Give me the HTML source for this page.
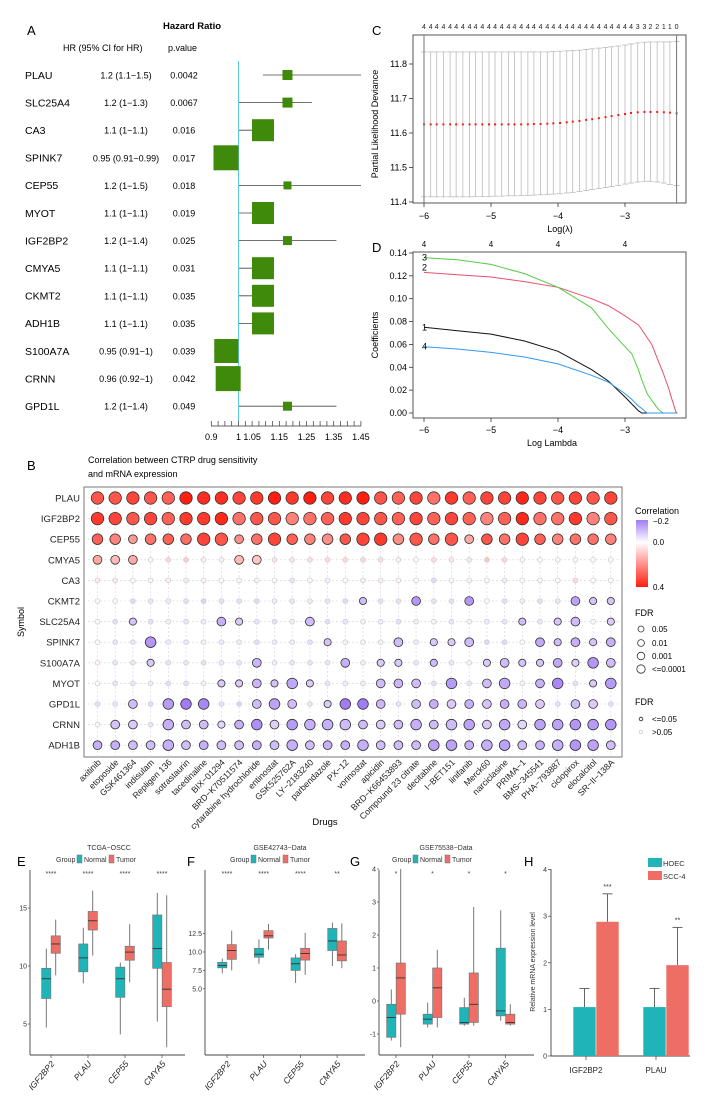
<!DOCTYPE html>
<html><head><meta charset="utf-8">
<style>
html,body{margin:0;padding:0;background:#fff;}
svg{display:block;font-family:"Liberation Sans",Arial,sans-serif;}
</style></head>
<body>
<svg id="fig" width="708" height="1113" viewBox="0 0 708 1113" xmlns="http://www.w3.org/2000/svg">
<rect x="0" y="0" width="708" height="1113" fill="#fff"/>
<text x="27" y="35" font-size="13">A</text>
<text x="27" y="470" font-size="13">B</text>
<text x="372" y="35" font-size="13">C</text>
<text x="372" y="252" font-size="13">D</text>
<text x="17" y="866" font-size="13">E</text>
<text x="187" y="866" font-size="13">F</text>
<text x="350" y="866" font-size="13">G</text>
<text x="524" y="866" font-size="13">H</text>
<text x="192" y="29" font-size="9.5" font-weight="bold" text-anchor="middle">Hazard Ratio</text>
<text x="63" y="51" font-size="9">HR (95% CI for HR)</text>
<text x="168" y="51" font-size="9">p.value</text>
<text x="88" y="463" font-size="9">Correlation between CTRP drug sensitivity</text>
<text x="88" y="477" font-size="9">and mRNA expression</text>
<text transform="translate(24,622) rotate(-90)" font-size="9" text-anchor="middle">Symbol</text>
<text x="325" y="825" font-size="9.5" text-anchor="middle">Drugs</text>
<text x="635" y="514" font-size="9">Correlation</text>
<defs><linearGradient id="cg" x1="0" y1="0" x2="0" y2="1">
<stop offset="0" stop-color="#a07cf5"/><stop offset="0.333" stop-color="#ffffff"/><stop offset="1" stop-color="#ff1e10"/></linearGradient></defs>
<rect x="636" y="520" width="12" height="67" fill="url(#cg)"/>
<text x="653" y="524" font-size="8">−0.2</text>
<text x="653" y="545" font-size="8">0.0</text>
<text x="653" y="590" font-size="8">0.4</text>
<text x="635" y="616" font-size="9">FDR</text>
<circle cx="641" cy="629" r="3" fill="none" stroke="#333" stroke-width="0.8"/>
<circle cx="641" cy="643" r="3.4" fill="none" stroke="#333" stroke-width="0.8"/>
<circle cx="641" cy="656" r="3.8" fill="none" stroke="#333" stroke-width="0.8"/>
<circle cx="641" cy="669" r="4.2" fill="none" stroke="#333" stroke-width="0.8"/>
<text x="652" y="632" font-size="8">0.05</text>
<text x="652" y="646" font-size="8">0.01</text>
<text x="652" y="659" font-size="8">0.001</text>
<text x="652" y="672" font-size="8">&lt;=0.0001</text>
<text x="635" y="705" font-size="9">FDR</text>
<circle cx="641" cy="719" r="1.8" fill="none" stroke="#222" stroke-width="0.8"/>
<circle cx="641" cy="732" r="1.8" fill="none" stroke="#ccc" stroke-width="0.8"/>
<text x="652" y="722" font-size="8">&lt;=0.05</text>
<text x="652" y="735" font-size="8">&gt;0.05</text>
<text transform="translate(378,124) rotate(-90)" font-size="9" text-anchor="middle">Partial Likelihood Deviance</text>
<text x="560" y="232" font-size="9" text-anchor="middle">Log(λ)</text>
<text transform="translate(378,335) rotate(-90)" font-size="9" text-anchor="middle">Coefficients</text>
<text x="552" y="446" font-size="9" text-anchor="middle">Log Lambda</text>
<text x="109" y="850" font-size="7" text-anchor="middle" fill="#333">TCGA−OSCC</text>
<text x="280" y="850" font-size="7" text-anchor="middle" fill="#333">GSE42743−Data</text>
<text x="446" y="850" font-size="7" text-anchor="middle" fill="#333">GSE75538−Data</text>
<rect x="648" y="858" width="14" height="9" fill="#1fb5b8"/>
<rect x="648" y="871" width="14" height="9" fill="#ee6e66"/>
<text x="663" y="866" font-size="7.5" fill="#333">HOEC</text>
<text x="663" y="879" font-size="7.5" fill="#333">SCC-4</text>
<text transform="translate(535,962) rotate(-90)" font-size="7" text-anchor="middle" fill="#333">Relative mRNA expression level</text>
</svg>
<script>
const NS='http://www.w3.org/2000/svg';
const svg=document.getElementById('fig');
function mk(tag,a,p){const e=document.createElementNS(NS,tag);for(const k in a)e.setAttribute(k,a[k]);(p||svg).appendChild(e);return e;}
function tx(s,a){const e=mk('text',a);e.textContent=s;return e;}

/* ===== Panel A ===== */
const fGenes=['PLAU','SLC25A4','CA3','SPINK7','CEP55','MYOT','IGF2BP2','CMYA5','CKMT2','ADH1B','S100A7A','CRNN','GPD1L'];
const fHRtext=['1.2 (1.1−1.5)','1.2 (1−1.3)','1.1 (1−1.1)','0.95 (0.91−0.99)','1.2 (1−1.5)','1.1 (1−1.1)','1.2 (1−1.4)','1.1 (1−1.1)','1.1 (1−1.1)','1.1 (1−1.1)','0.95 (0.91−1)','0.96 (0.92−1)','1.2 (1−1.4)'];
const fP=['0.0042','0.0067','0.016','0.017','0.018','0.019','0.025','0.031','0.035','0.035','0.039','0.042','0.049'];
const fHR=[1.18,1.18,1.09,0.954,1.18,1.09,1.18,1.09,1.09,1.09,0.955,0.962,1.18];
const fLo=[1.09,1.0,1.0,0.91,1.0,1.0,1.0,1.0,1.0,1.0,0.91,0.92,1.0];
const fHi=[1.5,1.27,1.1,0.99,1.5,1.1,1.36,1.1,1.1,1.1,1.0,1.0,1.36];
const fWeight=[10,10,22,25,8,22,9,22,22,22,24,25,9];
const fTicks=[0.9,1,1.05,1.15,1.25,1.35,1.45];
const fTickLabels=['0.9','1','1.05','1.15','1.25','1.35','1.45'];

const fx=v=>238.5+(v-1)*272;
const fy=i=>75+i*27.6;
const clampX=x=>Math.max(211,Math.min(361,x));
fGenes.forEach((g,i)=>{
  const y=fy(i);
  const t1=tx(g,{x:25,y:y+3.8,'font-size':10.5});
  
  
  const t2=tx(fHRtext[i],{x:126,y:y+3.5,'font-size':9,'text-anchor':'middle'});
  
  
  const t3=tx(fP[i],{x:184,y:y+3.5,'font-size':9,'text-anchor':'middle'});
  
  
  const ln=mk('line',{x1:clampX(fx(fLo[i])),x2:clampX(fx(fHi[i])),y1:y,y2:y,stroke:'#444','stroke-width':0.8});
  
  
});
const refl=mk('line',{x1:fx(1),x2:fx(1),y1:61,y2:421,stroke:'#5bc8d8','stroke-width':1});


fGenes.forEach((g,i)=>{
  const s=fWeight[i];
  const sq=mk('rect',{x:fx(fHR[i])-s/2,y:fy(i)-s/2,width:s,height:s,fill:'#3f8a0b'});
  
  
});
const fax=mk('line',{x1:211,x2:361,y1:426,y2:426,stroke:'#333','stroke-width':0.8});


for(let k=0;k<=22;k++){
  const v=0.9+k*0.025;
  const tk=mk('line',{x1:fx(v),x2:fx(v),y1:421,y2:426,stroke:'#333','stroke-width':0.7});
  
  
}
fTicks.forEach((v,i)=>{
  const t=tx(fTickLabels[i],{x:fx(v),y:440,'font-size':9,'text-anchor':'middle'});
  
  
});

/* ===== Panel B ===== */
const bGenes=['PLAU','IGF2BP2','CEP55','CMYA5','CA3','CKMT2','SLC25A4','SPINK7','S100A7A','MYOT','GPD1L','CRNN','ADH1B'];
const bDrugs=['axitinib','etoposide','GSK461364','indisulam','Repligen 136','sotrastaurin','tacedinaline','BIX−01294','BRD−K70511574','cytarabine hydrochloride','entinostat','GSK525762A','LY−2183240','parbendazole','PX−12','vorinostat','apicidin','BRD−K66453893','Compound 23 citrate','decitabine','I−BET151','linifanib','Merck60','narciclasine','PRIMA−1','BMS−345541','PHA−793887','ciclopirox','elocalcitol','SR−II−138A'];
const corPLAU=[0.3,0.3,0.33,0.3,0.28,0.4,0.37,0.37,0.33,0.35,0.4,0.35,0.4,0.33,0.37,0.4,0.3,0.28,0.33,0.25,0.35,0.28,0.33,0.33,0.38,0.33,0.3,0.33,0.3,0.33];
const corIGF2BP2=[0.35,0.33,0.3,0.33,0.28,0.35,0.35,0.38,0.25,0.3,0.3,0.22,0.25,0.28,0.35,0.33,0.3,0.28,0.33,0.28,0.33,0.28,0.22,0.28,0.38,0.25,0.25,0.35,0.22,0.3];
const corCEP55=[0.28,0.22,0.18,0.25,0.28,0.26,0.33,0.3,0.2,0.25,0.33,0.28,0.22,0.2,0.3,0.33,0.35,0.2,0.3,0.25,0.3,0.15,0.3,0.25,0.33,0.28,0.22,0.25,0.25,0.22];
const corCMYA5=[0.15,0.12,0.15,0.01,0.07,0.09,0.03,-0.02,0.12,0.1,0.05,0.05,0.06,0.06,0.07,0.07,0.06,0.03,0.01,0.06,0.04,-0.03,0.1,0.07,0.02,0.01,0.01,0.01,0.01,0.01];
const corCA3=[0.03,0.04,0.01,0.02,0.03,-0.03,0.02,0.01,0.02,-0.02,0.01,-0.04,0.01,-0.02,0.01,0.03,0.03,0.02,0.01,-0.06,0.01,-0.02,0.01,-0.03,0.01,0.02,0.01,0.06,0.01,0.01];
const corCKMT2=[-0.01,-0.01,-0.06,-0.04,-0.03,-0.05,-0.07,-0.05,-0.05,-0.06,-0.03,-0.04,-0.03,-0.04,-0.06,-0.1,-0.05,-0.05,-0.16,-0.05,-0.05,-0.16,-0.01,-0.05,-0.03,-0.05,-0.04,-0.14,-0.09,-0.09];
const corSLC25A4=[-0.01,-0.05,-0.09,-0.05,-0.02,-0.04,-0.03,-0.12,-0.08,-0.04,-0.05,-0.03,-0.1,-0.05,-0.04,-0.02,-0.03,-0.05,-0.03,0.02,-0.04,-0.02,-0.03,-0.04,-0.1,-0.04,-0.09,-0.1,-0.01,-0.08];
const corSPINK7=[-0.01,-0.04,-0.04,-0.16,-0.03,-0.04,-0.02,-0.03,-0.03,-0.05,-0.03,-0.03,-0.05,-0.09,-0.02,-0.02,-0.02,-0.1,-0.03,-0.08,-0.08,-0.1,-0.06,-0.06,0.01,-0.13,-0.1,-0.12,-0.09,-0.12];
const corS100A7A=[0.02,-0.04,-0.04,-0.08,-0.04,-0.04,-0.05,-0.03,-0.04,-0.11,-0.03,-0.04,-0.04,-0.04,-0.12,-0.03,-0.08,-0.08,-0.04,-0.1,-0.04,-0.02,-0.08,-0.1,-0.09,-0.09,-0.13,-0.07,-0.16,-0.1];
const corMYOT=[0.01,-0.04,-0.04,-0.03,-0.05,-0.05,-0.02,-0.08,-0.08,-0.11,-0.09,-0.13,-0.08,-0.04,-0.03,-0.03,-0.1,-0.11,-0.1,-0.05,-0.15,-0.04,-0.1,-0.13,-0.02,-0.12,-0.18,-0.05,-0.08,-0.15];
const corGPD1L=[-0.05,-0.04,-0.1,-0.06,-0.15,-0.22,-0.18,-0.05,-0.07,-0.1,-0.14,-0.1,-0.04,-0.08,-0.2,-0.2,-0.11,-0.05,-0.1,-0.12,-0.08,-0.12,-0.09,-0.12,-0.11,-0.08,-0.05,-0.1,-0.08,-0.05];
const corCRNN=[-0.01,-0.09,-0.08,-0.04,-0.12,-0.1,-0.1,-0.06,-0.12,-0.17,-0.07,-0.15,-0.12,-0.12,-0.1,-0.1,-0.08,-0.1,-0.12,-0.1,-0.1,-0.14,-0.08,-0.13,-0.06,-0.14,-0.14,-0.16,-0.15,-0.16];
const corADH1B=[-0.12,-0.12,-0.1,-0.1,-0.12,-0.1,-0.12,-0.1,-0.1,-0.12,-0.1,-0.12,-0.1,-0.12,-0.12,-0.12,-0.1,-0.1,-0.1,-0.14,-0.14,-0.12,-0.12,-0.14,-0.1,-0.12,-0.12,-0.16,-0.14,-0.1];
const fdrPLAU=[4,4,4,4,4,4,4,4,4,4,4,4,4,4,4,4,4,4,4,4,4,4,4,4,4,4,4,4,4,4];
const fdrIGF2BP2=[4,4,4,4,4,4,4,4,4,4,4,4,4,4,4,4,4,4,4,4,4,4,4,4,4,4,4,4,4,4];
const fdrCEP55=[3,3,2,3,3,3,4,4,2,3,4,3,3,3,3,4,4,3,4,3,4,2,3,3,4,3,3,3,3,3];
const fdrCMYA5=[2,2,2,0,0,0,0,0,2,2,0,0,0,0,0,0,0,0,0,0,0,0,0,0,0,0,0,0,0,0];
const fdrCA3=[0,0,0,0,0,0,0,0,0,0,0,0,0,0,0,0,0,0,0,0,0,0,0,0,0,0,0,0,0,0];
const fdrCKMT2=[0,0,0,0,0,0,0,0,0,0,0,0,0,0,0,1,0,0,2,0,0,2,0,0,0,0,0,2,1,1];
const fdrSLC25A4=[0,0,1,0,0,0,0,2,1,0,0,0,2,0,0,0,0,0,0,0,0,0,0,0,1,0,1,2,0,1];
const fdrSPINK7=[0,0,0,3,0,0,0,0,0,0,0,0,0,1,0,0,0,2,0,1,1,2,0,0,0,2,1,2,1,2];
const fdrS100A7A=[0,0,0,1,0,0,0,0,0,2,0,0,0,0,2,0,1,1,0,1,0,0,1,2,1,1,2,1,3,2];
const fdrMYOT=[0,0,0,0,0,0,0,1,1,2,1,3,1,0,0,0,2,2,2,0,3,0,2,3,0,2,3,0,1,3];
const fdrGPD1L=[0,0,2,0,3,3,3,0,0,2,3,2,0,1,3,3,2,0,2,2,2,2,2,2,2,2,0,2,2,0];
const fdrCRNN=[0,2,2,0,3,2,2,1,2,3,2,3,3,3,3,2,2,2,3,2,3,3,2,3,2,3,3,3,3,3];
const fdrADH1B=[2,2,2,2,3,2,2,2,2,2,2,3,2,2,2,3,2,2,2,3,3,2,3,3,2,2,3,3,3,2];
const bCor=[corPLAU,corIGF2BP2,corCEP55,corCMYA5,corCA3,corCKMT2,corSLC25A4,corSPINK7,corS100A7A,corMYOT,corGPD1L,corCRNN,corADH1B];
const bFdr=[fdrPLAU,fdrIGF2BP2,fdrCEP55,fdrCMYA5,fdrCA3,fdrCKMT2,fdrSLC25A4,fdrSPINK7,fdrS100A7A,fdrMYOT,fdrGPD1L,fdrCRNN,fdrADH1B];

const bx=i=>97.5+i*17.7;
const by=j=>498+j*20.6;
const radius=l=>[2.4,3.6,4.4,5.3,6.2][l];
function corColor(c){
  let r,g,b;
  if(c<0){const t=Math.min(1,-c/0.2);r=255+(160-255)*t;g=255+(124-255)*t;b=255+(245-255)*t;}
  else{const t=Math.min(1,c/0.4);r=255;g=255+(30-255)*t;b=255+(16-255)*t;}
  return `rgb(${r|0},${g|0},${b|0})`;
}
const bbox=mk('rect',{x:84,y:487,width:538,height:270,fill:'#fff',stroke:'#777','stroke-width':1});


bDrugs.forEach((d,i)=>{
  const gl=mk('line',{x1:bx(i),x2:bx(i),y1:487,y2:757,stroke:'#d4d4d4','stroke-width':0.6,'stroke-dasharray':'2,2'});
  
  
  const t=tx(d,{x:0,y:0,'font-size':8.7,'text-anchor':'end',fill:'#222',transform:`translate(${bx(i)+4},${763}) rotate(-45)`});
  
  
});
bGenes.forEach((g,j)=>{
  const gl=mk('line',{x1:84,x2:622,y1:by(j),y2:by(j),stroke:'#d4d4d4','stroke-width':0.6,'stroke-dasharray':'2,2'});
  
  
  const t=tx(g,{x:80,y:by(j)+3.5,'font-size':9.5,'text-anchor':'end',fill:'#222'});
  
  
  bCor[j].forEach((c,i)=>{
    const l=bFdr[j][i];
    const dot=mk('circle',{cx:bx(i),cy:by(j),r:radius(l),fill:corColor(c),stroke:l>0?'#333':'#cfcfcf','stroke-width':0.8});
    
    
  });
});

/* ===== Panel C ===== */
const cLogLambda=[-6.00,-5.90,-5.81,-5.71,-5.61,-5.52,-5.42,-5.32,-5.23,-5.13,-5.03,-4.94,-4.84,-4.74,-4.65,-4.55,-4.45,-4.36,-4.26,-4.16,-4.07,-3.97,-3.87,-3.78,-3.68,-3.58,-3.49,-3.39,-3.29,-3.20,-3.10,-3.00,-2.91,-2.81,-2.71,-2.62,-2.52,-2.42,-2.33,-2.23];
const cMean=[11.625,11.625,11.625,11.625,11.625,11.625,11.625,11.625,11.625,11.625,11.625,11.625,11.625,11.625,11.625,11.625,11.625,11.626,11.626,11.627,11.628,11.629,11.631,11.633,11.635,11.638,11.640,11.643,11.646,11.649,11.652,11.655,11.658,11.660,11.661,11.661,11.661,11.660,11.659,11.657];
const cUpper=[11.835,11.835,11.835,11.835,11.835,11.835,11.835,11.835,11.835,11.835,11.835,11.835,11.835,11.835,11.835,11.835,11.835,11.835,11.835,11.835,11.836,11.837,11.838,11.839,11.840,11.842,11.844,11.846,11.848,11.850,11.852,11.855,11.858,11.861,11.863,11.864,11.864,11.864,11.864,11.865];
const cLower=[11.415,11.415,11.415,11.415,11.415,11.415,11.415,11.415,11.416,11.416,11.416,11.417,11.417,11.418,11.418,11.419,11.419,11.420,11.421,11.422,11.423,11.424,11.426,11.428,11.430,11.433,11.436,11.439,11.442,11.445,11.448,11.452,11.455,11.458,11.460,11.460,11.458,11.455,11.451,11.448];
const cTop=['4','4','4','4','4','4','4','4','4','4','4','4','4','4','4','4','4','4','4','4','4','4','4','4','4','4','4','4','4','4','4','4','4','3','3','2','2','1','1','0'];
const cYTicks=[11.4,11.5,11.6,11.7,11.8];
const lamTicks=[-6,-5,-4,-3];
const lx=v=>424+(v+6)*67;
const cy=v=>202-(v-11.4)*345;
const cbox=mk('rect',{x:413,y:35,width:273,height:168,fill:'none',stroke:'#555','stroke-width':1});


cLogLambda.forEach((v,i)=>{
  const x=lx(v);
  const eb=mk('line',{x1:x,x2:x,y1:cy(cUpper[i]),y2:cy(cLower[i]),stroke:'#bbb','stroke-width':0.8});
  
  
  const c1=mk('line',{x1:x-3,x2:x+3,y1:cy(cUpper[i]),y2:cy(cUpper[i]),stroke:'#bbb','stroke-width':0.8});
  
  
  const c2=mk('line',{x1:x-3,x2:x+3,y1:cy(cLower[i]),y2:cy(cLower[i]),stroke:'#bbb','stroke-width':0.8});
  
  
  const p=mk('rect',{x:x-1,y:cy(cMean[i])-1,width:2,height:2,fill:'#ff1a1a'});
  
  
  const t=tx(cTop[i],{x:x,y:29,'font-size':7,'text-anchor':'middle',fill:'#222'});
  
  
});
[cLogLambda[0],cLogLambda[cLogLambda.length-1]].forEach(v=>{
  const vl=mk('line',{x1:lx(v),x2:lx(v),y1:35,y2:203,stroke:'#777','stroke-width':1});
  
  
});
cYTicks.forEach(v=>{
  const tk=mk('line',{x1:409,x2:413,y1:cy(v),y2:cy(v),stroke:'#333','stroke-width':0.8});
  
  
  const t=tx(v.toFixed(1),{x:407,y:cy(v)+3,'font-size':9,'text-anchor':'end'});
  
  
});
lamTicks.forEach(v=>{
  const tk=mk('line',{x1:lx(v),x2:lx(v),y1:203,y2:207,stroke:'#333','stroke-width':0.8});
  
  
  const t=tx('−'+Math.abs(v),{x:lx(v),y:219,'font-size':9,'text-anchor':'middle'});
  
  
});

/* ===== Panel D ===== */
const dLogLambda=[-6,-5.5,-5,-4.5,-4,-3.5,-3.25,-3,-2.9,-2.8,-2.75,-2.67,-2.6,-2.5,-2.43,-2.35,-2.3,-2.24,-2.22];
const dCoef1=[0.075,0.072,0.069,0.063,0.054,0.038,0.028,0.014,0.008,0.002,0,0,0,0,0,0,0,0,0];
const dCoef2=[0.123,0.121,0.119,0.115,0.110,0.100,0.094,0.085,0.081,0.077,0.073,0.066,0.060,0.045,0.035,0.022,0.012,0.001,0];
const dCoef3=[0.136,0.134,0.130,0.122,0.110,0.092,0.074,0.058,0.052,0.038,0.029,0.017,0.011,0.003,0,0,0,0,0];
const dCoef4=[0.058,0.056,0.053,0.049,0.043,0.033,0.027,0.017,0.012,0.006,0.004,0,0,0,0,0,0,0,0];
const dSeries=[dCoef1,dCoef2,dCoef3,dCoef4];
const dColors=['#111111','#e8506e','#55cc44','#3399ee'];
const dYTicks=[0,0.02,0.04,0.06,0.08,0.1,0.12,0.14];
const dy=v=>413-v*1143;
const dbox=mk('rect',{x:413,y:252,width:273,height:166,fill:'none',stroke:'#555','stroke-width':1});


dSeries.forEach((s,k)=>{
  const pts=s.map((v,i)=>lx(dLogLambda[i]).toFixed(1)+','+dy(v).toFixed(1)).join(' ');
  const pl=mk('polyline',{points:pts,fill:'none',stroke:dColors[k],'stroke-width':1});
  
  
  const t=tx(String(k+1),{x:422,y:dy(s[0])+(k==1?-2:3),'font-size':9});
  
  
});
dYTicks.forEach(v=>{
  const tk=mk('line',{x1:409,x2:413,y1:dy(v),y2:dy(v),stroke:'#333','stroke-width':0.8});
  
  
  const t=tx(v.toFixed(2),{x:407,y:dy(v)+3,'font-size':9,'text-anchor':'end'});
  
  
});
lamTicks.forEach(v=>{
  const tk=mk('line',{x1:lx(v),x2:lx(v),y1:418,y2:422,stroke:'#333','stroke-width':0.8});
  
  
  const t=tx('−'+Math.abs(v),{x:lx(v),y:433,'font-size':9,'text-anchor':'middle'});
  
  
  const t2=tx('4',{x:lx(v),y:247,'font-size':8,'text-anchor':'middle'});
  
  
});

/* ===== Panels E, F, G ===== */
const boxGenes=['IGF2BP2','PLAU','CEP55','CMYA5'];
const eNormal=[[4.7,7.2,8.9,9.8,11.5],[8.5,9.5,10.7,11.9,13.3],[4.1,7.3,8.9,9.9,10.3],[5.2,9.8,11.5,14.4,16.3]];
const eTumor=[[9.2,11.1,11.9,12.6,14.0],[10.9,13.1,13.9,14.7,16.5],[8.6,10.5,11.2,11.7,13.6],[3.0,6.5,8.0,10.3,16.1]];
const eStars=['****','****','****','****'];
const fNormal=[[7.1,7.85,8.15,8.6,9.1],[8.4,9.3,9.7,10.5,11.7],[5.8,7.5,8.4,9.2,9.7],[8.1,10.2,11.5,13.2,14.0]];
const fTumor=[[7.5,9.0,10.2,11.0,12.9],[10.3,11.9,12.2,12.9,13.8],[6.9,8.9,9.8,10.5,12.6],[7.8,8.8,9.6,11.5,13.9]];
const fStars=['****','****','****','**'];
const gNormal=[[-1.2,-1.1,-0.5,-0.1,0.35],[-0.8,-0.7,-0.55,-0.4,-0.05],[-0.75,-0.7,-0.65,-0.2,0.1],[-0.6,-0.45,-0.3,1.6,2.75]];
const gTumor=[[-1.4,-0.4,0.7,1.15,4.0],[-0.8,-0.5,0.4,1.0,1.55],[-0.75,-0.65,-0.1,0.85,2.85],[-0.75,-0.7,-0.65,-0.4,-0.1]];
const gStars=['*','*','*','*'];
const eTicks=[5,10,15], fTicks2=[5.0,7.5,10.0,12.5], gTicks=[-1,0,1,2,3,4];

function boxPanel(id,axX,axEnd,g0,gStep,yf,ticks,dec,normal,tumor,stars){
  const ya=mk('line',{x1:axX,x2:axX,y1:870,y2:1055,stroke:'#444','stroke-width':0.9});
  
  
  const xa=mk('line',{x1:axX,x2:axEnd,y1:1055,y2:1055,stroke:'#444','stroke-width':0.9});
  
  
  ticks.forEach(v=>{
    const tk=mk('line',{x1:axX-2,x2:axX,y1:yf(v),y2:yf(v),stroke:'#444','stroke-width':0.7});
    
    
    const t=tx(v.toFixed(dec),{x:axX-3,y:yf(v)+2.5,'font-size':7,'text-anchor':'end',fill:'#333'});
    
    
  });
  boxGenes.forEach((g,i)=>{
    const c=g0+i*gStep;
    [[normal[i],'#1fb5b8',-4.75,'normal'],[tumor[i],'#ee6e66',4.75,'tumor']].forEach(([d,col,off,grp])=>{
      const x=c+off;
      const w=mk('line',{x1:x,x2:x,y1:yf(d[4]),y2:yf(d[0]),stroke:'#555','stroke-width':0.8});
      
      
      const b=mk('rect',{x:x-4.6,y:yf(d[3]),width:9.2,height:yf(d[1])-yf(d[3]),fill:col,stroke:'#777','stroke-width':0.7});
      
      
      const m=mk('line',{x1:x-4.6,x2:x+4.6,y1:yf(d[2]),y2:yf(d[2]),stroke:'#333','stroke-width':0.9});
      
      
    });
    const s=tx(stars[i],{x:c,y:876,'font-size':7,'text-anchor':'middle',fill:'#444'});
    
    
    const tk=mk('line',{x1:c,x2:c,y1:1055,y2:1058,stroke:'#444','stroke-width':0.7});
    
    
    const lb=tx(g,{x:0,y:0,'font-size':8.5,'font-style':'italic','text-anchor':'end',fill:'#222',transform:`translate(${c+4},${1064}) rotate(-50)`});
    
    
  });
}
boxPanel('tcga',30,185,51,37,v=>966-(v-10)*11.6,eTicks,0,eNormal,eTumor,eStars);
boxPanel('gse42743',205,365,227,36.7,v=>952-(v-10)*7.36,fTicks2,1,fNormal,fTumor,fStars);
boxPanel('gse75538',379,534,396,36.5,v=>1001-v*33,gTicks,0,gNormal,gTumor,gStars);

[[104,'tcga'],[278,'gse42743'],[440,'gse75538']].forEach(([cx,id])=>{
  const a=tx('Group',{x:cx-48,y:862,'font-size':7,fill:'#333'});
  
  
  const s1=mk('rect',{x:cx-27,y:855,width:5,height:8,fill:'#1fb5b8',stroke:'#777','stroke-width':0.5});
  
  
  const b=tx('Normal',{x:cx-20,y:862,'font-size':7,fill:'#333'});
  
  
  const s2=mk('rect',{x:cx+5,y:855,width:5,height:8,fill:'#ee6e66',stroke:'#777','stroke-width':0.5});
  
  
  const c=tx('Tumor',{x:cx+12,y:862,'font-size':7,fill:'#333'});
  
  
});

/* ===== Panel H ===== */
const hGenes=['IGF2BP2','PLAU'];
const hHOEC=[1.05,1.05];
const hHOECerr=[1.45,1.45];
const hSCC=[2.88,1.95];
const hSCCerr=[3.48,2.76];
const hStars=['***','**'];
const hTicks=[0,1,2,3,4];
const hy=v=>1056-v*46.6;
const hc=[596,666];
const hya=mk('line',{x1:551,x2:551,y1:869,y2:1056,stroke:'#444','stroke-width':0.9});


const hxa=mk('line',{x1:551,x2:690,y1:1056,y2:1056,stroke:'#444','stroke-width':0.9});


hTicks.forEach(v=>{
  const tk=mk('line',{x1:548,x2:551,y1:hy(v),y2:hy(v),stroke:'#444','stroke-width':0.7});
  
  
  const t=tx(String(v),{x:547,y:hy(v)+2.5,'font-size':7,'text-anchor':'end',fill:'#333'});
  
  
});
hGenes.forEach((g,i)=>{
  const c=hc[i];
  [[hHOEC[i],hHOECerr[i],'#1fb5b8',-11.5,'hoec'],[hSCC[i],hSCCerr[i],'#ee6e66',11.5,'scc4']].forEach(([v,e,col,off,grp])=>{
    const x=c+off;
    const el=mk('line',{x1:x,x2:x,y1:hy(e),y2:hy(v),stroke:'#555','stroke-width':0.9});
    
    
    const cap=mk('line',{x1:x-5,x2:x+5,y1:hy(e),y2:hy(e),stroke:'#555','stroke-width':0.9});
    
    
    const b=mk('rect',{x:x-11.2,y:hy(v),width:22.4,height:hy(0)-hy(v),fill:col});
    
    
  });
  const s=tx(hStars[i],{x:c+11.5,y:hy(hSCCerr[i])-5,'font-size':7,'text-anchor':'middle',fill:'#333'});
  
  
  const tk=mk('line',{x1:c-10,x2:c-10,y1:1056,y2:1060,stroke:'#444','stroke-width':0.7});
  
  
  const lb=tx(g,{x:c-10,y:1073,'font-size':8,'text-anchor':'middle',fill:'#222'});
  
  
});
</script>
</body></html>
